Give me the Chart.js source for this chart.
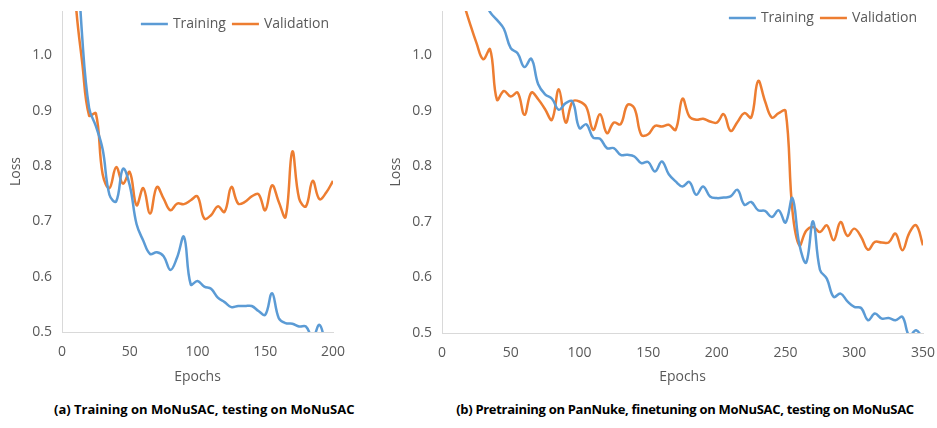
<!DOCTYPE html>
<html>
<head>
<meta charset="utf-8">
<script src="https://cdn.jsdelivr.net/npm/chart.js@4.4.0/dist/chart.umd.min.js"></script>
<style>
  html, body { margin: 0; padding: 0; background: #fff; }
  #page { position: relative; width: 937px; height: 428px; overflow: hidden; }
  canvas { position: absolute; top: 0; }
  #chartA { left: 0; }
  #chartB { left: 380px; }
  .caption {
    position: absolute; top: 400px; height: 18px; line-height: 18px;
    text-align: center; font: bold 13px "Open Sans", sans-serif; color: #000;
    white-space: nowrap;
  }
</style>
</head>
<body>
<div id="page">
  <canvas id="chartA" width="380" height="392"></canvas>
  <canvas id="chartB" width="557" height="392"></canvas>
  <div class="caption" style="left:54px;width:300px;">(a) Training on MoNuSAC, testing on MoNuSAC</div>
  <div class="caption" style="left:455px;width:460px;letter-spacing:-0.3px;">(b) Pretraining on PanNuke, finetuning on MoNuSAC, testing on MoNuSAC</div>
</div>
<script>
// (a) Training on MoNuSAC
const epochsA = [5, 10, 15, 20, 25, 30, 35, 40, 45, 50, 55, 60, 65, 70, 75, 80, 85, 90, 95, 100,
    105, 110, 115, 120, 125, 130, 135, 140, 145, 150, 155, 160, 165, 170, 175, 180, 185, 190, 195, 200];
const trainA = [1.55, 1.25, 1.03, 0.905, 0.872, 0.83, 0.748, 0.736, 0.795, 0.765, 0.695, 0.665, 0.641, 0.644, 0.637, 0.612, 0.635, 0.672, 0.586, 0.592,
    0.582, 0.578, 0.562, 0.554, 0.545, 0.547, 0.547, 0.547, 0.538, 0.531, 0.57, 0.525, 0.516, 0.515, 0.51, 0.51, 0.49, 0.513, 0.48, 0.47];
const valA = [1.35, 1.1, 0.985, 0.891, 0.895, 0.785, 0.76, 0.798, 0.768, 0.789, 0.729, 0.76, 0.714, 0.762, 0.741, 0.72, 0.732, 0.731, 0.738, 0.745,
    0.705, 0.711, 0.727, 0.717, 0.762, 0.732, 0.735, 0.745, 0.749, 0.72, 0.765, 0.735, 0.708, 0.826, 0.741, 0.727, 0.773, 0.74, 0.752, 0.773];

// (b) Pretraining on PanNuke, finetuning on MoNuSAC
const epochsB = [5, 10, 15, 20, 25, 30, 35, 40, 45, 50, 55, 60, 65, 70, 75, 80, 85, 90, 95, 100,
    105, 110, 115, 120, 125, 130, 135, 140, 145, 150, 155, 160, 165, 170, 175, 180, 185, 190, 195, 200,
    205, 210, 215, 220, 225, 230, 235, 240, 245, 250, 255, 260, 265, 270, 275, 280, 285, 290, 295, 300,
    305, 310, 315, 320, 325, 330, 335, 340, 345, 350];
const trainB = [1.3, 1.25, 1.21, 1.17, 1.135, 1.105, 1.078, 1.064, 1.048, 1.013, 1.004, 0.979, 0.994, 0.948, 0.93, 0.922, 0.902, 0.914, 0.917, 0.869,
    0.876, 0.852, 0.85, 0.833, 0.833, 0.821, 0.821, 0.818, 0.806, 0.808, 0.791, 0.809, 0.786, 0.773, 0.764, 0.772, 0.749, 0.764, 0.746, 0.743,
    0.744, 0.746, 0.758, 0.731, 0.736, 0.721, 0.72, 0.709, 0.721, 0.699, 0.743, 0.66, 0.627, 0.701, 0.614, 0.598, 0.565, 0.571, 0.557, 0.547,
    0.545, 0.523, 0.535, 0.526, 0.527, 0.523, 0.529, 0.495, 0.505, 0.49];
const valB = [1.2, 1.14, 1.1, 1.06, 1.023, 0.993, 1.011, 0.92, 0.936, 0.926, 0.933, 0.893, 0.933, 0.921, 0.903, 0.884, 0.939, 0.879, 0.917, 0.917,
    0.907, 0.866, 0.894, 0.86, 0.879, 0.876, 0.911, 0.905, 0.857, 0.858, 0.873, 0.872, 0.875, 0.866, 0.922, 0.89, 0.884, 0.886, 0.881, 0.879,
    0.894, 0.864, 0.88, 0.896, 0.888, 0.954, 0.918, 0.888, 0.896, 0.9, 0.72, 0.658, 0.684, 0.691, 0.682, 0.694, 0.667, 0.7, 0.675, 0.688,
    0.673, 0.65, 0.664, 0.663, 0.663, 0.679, 0.649, 0.68, 0.694, 0.658];

const yTicks = [0.5, 0.6, 0.7, 0.8, 0.9, 1.0];

const BLUE = '#5B9BD5';
const ORANGE = '#ED7D31';
const TEXT = '#595959';
const FONT = '"Open Sans", sans-serif';

// legend drawn inside the plot area, right aligned, like the Excel original
const insideLegend = {
    id: 'insideLegend',
    afterDatasetsDraw(chart, args, opts) {
        const {ctx, chartArea} = chart;
        ctx.save();
        ctx.font = '14px ' + FONT;
        ctx.textBaseline = 'middle';
        const items = chart.data.datasets.map(ds => ({
            text: ds.label,
            color: ds.borderColor,
            w: opts.sample + opts.gap + ctx.measureText(ds.label).width
        }));
        const total = items.reduce((s, it) => s + it.w, 0) + opts.spacing * (items.length - 1);
        let x = chartArea.right - opts.right - total;
        const y = chartArea.top + opts.top;
        items.forEach(it => {
            ctx.strokeStyle = it.color;
            ctx.lineWidth = 2.5;
            ctx.beginPath();
            ctx.moveTo(x, y);
            ctx.lineTo(x + opts.sample, y);
            ctx.stroke();
            ctx.fillStyle = TEXT;
            ctx.fillText(it.text, x + opts.sample + opts.gap, y);
            x += it.w + opts.spacing;
        });
        ctx.restore();
    }
};

function makeChart(id, epochs, train, val, xMax, padRight, xHeight, legendTop, legendRight) {
    const ctx = document.getElementById(id).getContext('2d');
    return new Chart(ctx, {
        type: 'line',
        data: {
            datasets: [{
                label: 'Training',
                data: epochs.map((e, i) => ({x: e, y: train[i]})),
                borderColor: BLUE,
                backgroundColor: BLUE,
                borderWidth: 2.5,
                pointRadius: 0,
                tension: 0.4
            }, {
                label: 'Validation',
                data: epochs.map((e, i) => ({x: e, y: val[i]})),
                borderColor: ORANGE,
                backgroundColor: ORANGE,
                borderWidth: 2.5,
                pointRadius: 0,
                tension: 0.4
            }]
        },
        options: {
            responsive: false,
            animation: false,
            layout: {
                padding: {top: 11, right: padRight, left: 0, bottom: 0}
            },
            scales: {
                x: {
                    type: 'linear',
                    min: 0,
                    max: xMax,
                    grid: {display: false, drawTicks: false},
                    border: {display: true, color: '#D9D9D9', width: 1},
                    ticks: {
                        stepSize: 50,
                        padding: 12,
                        color: TEXT,
                        font: {family: FONT, size: 14}
                    },
                    title: {
                        display: true,
                        text: 'Epochs',
                        color: TEXT,
                        font: {family: FONT, size: 14},
                        padding: {top: 0, bottom: 7}
                    },
                    afterFit: s => {
                        s.height = xHeight;
                        s.paddingLeft = 0;
                        s.paddingRight = 0;
                    }
                },
                y: {
                    min: 0.5,
                    max: 1.08,
                    grid: {display: false, drawTicks: false},
                    border: {display: true, color: '#D9D9D9', width: 1},
                    afterBuildTicks: s => { s.ticks = yTicks.map(v => ({value: v})); },
                    ticks: {
                        padding: 10,
                        color: TEXT,
                        font: {family: FONT, size: 14},
                        callback: v => v.toFixed(1)
                    },
                    title: {
                        display: true,
                        text: 'Loss',
                        color: TEXT,
                        font: {family: FONT, size: 14},
                        padding: {top: 8, bottom: 0}
                    },
                    afterFit: s => {
                        s.width = 62;
                        s.paddingTop = 0;
                        s.paddingBottom = 0;
                    }
                }
            },
            plugins: {
                legend: {display: false},
                tooltip: {enabled: false},
                insideLegend: {sample: 27, gap: 5, spacing: 6, top: legendTop, right: legendRight}
            }
        },
        plugins: [insideLegend]
    });
}

document.addEventListener('DOMContentLoaded', () => {
    makeChart('chartA', epochsA, trainA, valA, 200, 47, 60, 13, 4);
    makeChart('chartB', epochsB, trainB, valB, 350, 14, 59, 7, 6);
});
</script>
</body>
</html>
